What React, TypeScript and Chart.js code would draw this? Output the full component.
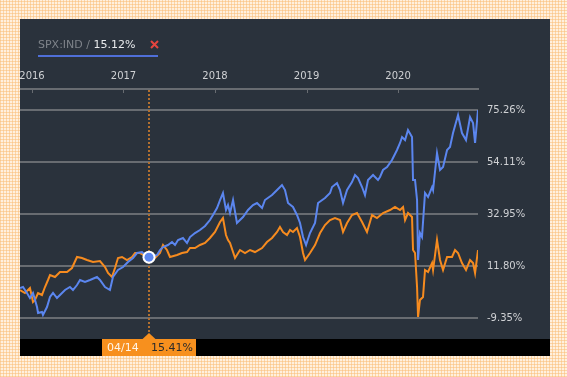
import React, { useEffect, useRef } from 'react';
import { Chart, registerables } from 'chart.js';
Chart.register(...registerables);

// ---- data (decimal years, % change) ----
const spxYears = [
  2015.869, 2015.902, 2015.945, 2015.978, 2016.011, 2016.055, 2016.066, 2016.109, 2016.120, 2016.164,
  2016.197, 2016.230, 2016.273, 2016.306, 2016.361, 2016.415, 2016.448, 2016.492, 2016.525, 2016.579,
  2016.634, 2016.710, 2016.743, 2016.798, 2016.852, 2016.885, 2016.940, 2016.995, 2017.049, 2017.104,
  2017.148, 2017.202, 2017.246, 2017.282, 2017.333, 2017.366, 2017.399, 2017.432, 2017.486, 2017.530,
  2017.563, 2017.596, 2017.650, 2017.694, 2017.727, 2017.781, 2017.836, 2017.891, 2017.945, 2017.978,
  2018.022, 2018.055, 2018.087, 2018.120, 2018.142, 2018.164, 2018.197, 2018.240, 2018.273, 2018.306,
  2018.361, 2018.415, 2018.459, 2018.514, 2018.546, 2018.623, 2018.678, 2018.732, 2018.765, 2018.798,
  2018.852, 2018.896, 2018.929, 2018.962, 2018.995, 2019.038, 2019.093, 2019.126, 2019.202, 2019.257,
  2019.279, 2019.333, 2019.366, 2019.399, 2019.443, 2019.497, 2019.530, 2019.563, 2019.607, 2019.639,
  2019.672, 2019.727, 2019.781, 2019.803, 2019.836, 2019.880, 2019.934, 2019.989, 2020.022, 2020.044,
  2020.077, 2020.109, 2020.153, 2020.164, 2020.186, 2020.208, 2020.219, 2020.240, 2020.262, 2020.295,
  2020.328, 2020.372, 2020.383, 2020.426, 2020.459, 2020.492, 2020.536, 2020.568, 2020.601, 2020.656,
  2020.699, 2020.743, 2020.787, 2020.820, 2020.842, 2020.874,
];
const spxValues = [
  2.85, 3.26, 0.82, -1.22, 0.82, -4.88, -7.32, -6.91, -8.13, -4.88,
  -0.81, 0.82, -1.22, 0.01, 2.04, 3.26, 2.04, 4.07, 6.11, 5.29,
  6.11, 7.33, 6.11, 3.26, 2.04, 7.33, 10.17, 11.39, 13.43, 15.05,
  17.09, 17.49, 15.87, 15.41, 15.87, 16.27, 18.31, 19.53, 20.34, 21.56,
  20.34, 22.37, 23.19, 21.15, 23.59, 25.22, 26.44, 28.07, 30.51, 32.54,
  35.39, 38.64, 41.49, 34.58, 36.61, 33.36, 38.64, 29.29, 30.51, 31.73,
  34.58, 36.61, 37.42, 35.39, 38.64, 40.68, 42.71, 44.74, 42.71, 37.42,
  35.80, 32.54, 29.29, 23.59, 20.34, 25.22, 29.29, 37.42, 39.46, 41.49,
  43.93, 45.56, 42.71, 37.42, 42.71, 45.96, 48.81, 47.59, 43.93, 40.68,
  46.78, 48.81, 46.78, 48.00, 50.85, 52.07, 54.91, 58.98, 61.83, 64.27,
  63.05, 67.11, 64.27, 46.78, 46.78, 38.64, 14.24, 25.22, 23.59, 41.49,
  39.86, 43.93, 42.71, 57.76, 50.85, 52.07, 58.98, 60.20, 65.89, 73.21,
  65.89, 63.05, 72.40, 69.96, 61.83, 75.25,
];

const peerYears = [
  2015.869, 2015.923, 2015.978, 2016.011, 2016.033, 2016.066, 2016.109, 2016.142, 2016.175, 2016.197,
  2016.251, 2016.306, 2016.383, 2016.437, 2016.492, 2016.546, 2016.601, 2016.667, 2016.743, 2016.798,
  2016.831, 2016.874, 2016.907, 2016.940, 2016.984, 2017.038, 2017.093, 2017.126, 2017.180, 2017.268,
  2017.344, 2017.399, 2017.432, 2017.475, 2017.508, 2017.585, 2017.639, 2017.694, 2017.727, 2017.781,
  2017.836, 2017.891, 2017.945, 2018.000, 2018.055, 2018.087, 2018.120, 2018.142, 2018.164, 2018.219,
  2018.273, 2018.328, 2018.383, 2018.437, 2018.514, 2018.568, 2018.623, 2018.678, 2018.710, 2018.743,
  2018.787, 2018.820, 2018.852, 2018.896, 2018.929, 2018.962, 2018.984, 2019.038, 2019.093, 2019.148,
  2019.202, 2019.257, 2019.311, 2019.366, 2019.399, 2019.443, 2019.497, 2019.552, 2019.607, 2019.661,
  2019.716, 2019.770, 2019.836, 2019.913, 2019.967, 2020.022, 2020.055, 2020.077, 2020.109, 2020.153,
  2020.164, 2020.186, 2020.208, 2020.219, 2020.240, 2020.273, 2020.295, 2020.328, 2020.372, 2020.383,
  2020.426, 2020.459, 2020.492, 2020.536, 2020.590, 2020.623, 2020.656, 2020.699, 2020.743, 2020.787,
  2020.820, 2020.842, 2020.874,
];
const peerValues = [
  2.04, 0.82, 2.85, -2.84, -2.03, 0.82, 0.01, 3.26, 6.11, 8.14,
  7.33, 9.36, 9.36, 10.99, 15.46, 15.05, 14.24, 13.43, 13.83, 11.39,
  8.95, 7.33, 10.99, 15.05, 15.46, 14.24, 15.46, 17.09, 17.09, 15.46,
  15.05, 17.09, 20.34, 18.31, 15.46, 16.27, 17.09, 17.49, 19.12, 19.12,
  20.34, 21.15, 23.19, 25.63, 29.70, 31.32, 24.41, 22.37, 21.15, 15.05,
  18.31, 17.09, 18.31, 17.49, 19.12, 21.56, 23.19, 25.63, 27.66, 25.63,
  24.41, 26.44, 25.63, 27.26, 23.59, 17.09, 14.24, 17.09, 20.34, 25.22,
  28.48, 30.51, 31.32, 30.51, 25.63, 29.29, 32.54, 33.36, 29.70, 25.63,
  32.54, 31.32, 33.36, 34.58, 35.80, 34.58, 35.80, 30.51, 33.36, 31.73,
  18.31, 17.09, 3.26, -8.94, -2.03, -0.81, 10.17, 9.36, 13.02, 10.17,
  22.37, 14.24, 10.17, 15.46, 15.46, 18.31, 17.09, 13.02, 10.17, 14.24,
  13.02, 8.95, 18.31,
];

const yearTicks = [2016, 2017, 2018, 2019, 2020];
const valueTicks = [-9.35, 11.8, 32.95, 54.11, 75.26];
const legendName = 'SPX:IND / ';
const legendValue = '15.12%';
const markerYear = 2017.282;
const markerDate = '04/14';
const markerValue = 15.41;

const BLUE = '#5b86ef';
const ORANGE = '#f68b1f';
const PANEL = '#2a323c';
const GRID = '#686c71';
const FONT = '"DejaVu Sans", sans-serif';

export default function App() {
  const ref = useRef<HTMLCanvasElement | null>(null);

  useEffect(() => {
    if (!ref.current) return;

    const decor = {
      id: 'decor',
      beforeDraw(chart: any) {
        const { ctx, width, height, chartArea } = chart;
        ctx.save();
        ctx.fillStyle = PANEL;
        ctx.fillRect(0, 0, width, height);
        ctx.fillStyle = '#000';
        ctx.fillRect(0, chartArea.bottom, width, height - chartArea.bottom);
        ctx.restore();
      },
      beforeDatasetsDraw(chart: any) {
        const { ctx, chartArea, scales } = chart;
        const xs = scales.x;
        ctx.save();
        ctx.strokeStyle = GRID;
        ctx.lineWidth = 1;
        yearTicks.forEach((t) => {
          const px = Math.round(xs.getPixelForValue(t)) + 0.5;
          ctx.beginPath();
          ctx.moveTo(px, chartArea.top);
          ctx.lineTo(px, chartArea.top + 4);
          ctx.stroke();
        });
        const mx = Math.round(xs.getPixelForValue(markerYear));
        ctx.strokeStyle = '#b3702f';
        ctx.lineWidth = 2;
        ctx.setLineDash([2, 2]);
        ctx.beginPath();
        ctx.moveTo(mx, chartArea.top + 1);
        ctx.lineTo(mx, chartArea.bottom - 6);
        ctx.stroke();
        ctx.restore();
      },
      afterDraw(chart: any) {
        const { ctx, chartArea, scales } = chart;
        const xs = scales.x;
        const ys = scales.y;
        ctx.save();
        const mx = Math.round(xs.getPixelForValue(markerYear));
        const my = ys.getPixelForValue(markerValue);
        ctx.fillStyle = '#ffffff';
        ctx.beginPath();
        ctx.arc(mx, my, 6.5, 0, Math.PI * 2);
        ctx.fill();
        ctx.fillStyle = BLUE;
        ctx.beginPath();
        ctx.arc(mx, my, 4.5, 0, Math.PI * 2);
        ctx.fill();

        const top = chartArea.bottom;
        ctx.fillStyle = '#f7901e';
        ctx.fillRect(mx - 47, top, 94, 17);
        ctx.beginPath();
        ctx.moveTo(mx - 7, top + 0.5);
        ctx.lineTo(mx, top - 6);
        ctx.lineTo(mx + 7, top + 0.5);
        ctx.closePath();
        ctx.fill();
        ctx.font = '11px ' + FONT;
        ctx.textBaseline = 'middle';
        ctx.textAlign = 'left';
        ctx.fillStyle = '#fff4e6';
        ctx.fillText(markerDate, mx - 42, top + 9);
        ctx.fillStyle = '#2b2b2b';
        ctx.fillText(markerValue.toFixed(2) + '%', mx + 2, top + 9);

        ctx.font = '11px ' + FONT;
        ctx.fillStyle = '#7e838a';
        ctx.fillText(legendName, 18, 26);
        const w = ctx.measureText(legendName).width;
        ctx.fillStyle = '#e8eaec';
        ctx.fillText(legendValue, 18 + w, 26);
        ctx.strokeStyle = '#e5453f';
        ctx.lineWidth = 2;
        ctx.beginPath();
        ctx.moveTo(131, 22);
        ctx.lineTo(138, 29);
        ctx.moveTo(138, 22);
        ctx.lineTo(131, 29);
        ctx.stroke();
        ctx.fillStyle = '#4f6fd8';
        ctx.fillRect(18, 36, 120, 2);
        ctx.restore();
      },
    };

    const chart = new Chart(ref.current, {
      type: 'line',
      data: {
        datasets: [
          {
            label: 'SPX:IND',
            data: spxYears.map((x, i) => ({ x, y: spxValues[i] })),
            borderColor: BLUE,
            borderWidth: 2,
            pointRadius: 0,
            tension: 0,
          },
          {
            label: 'Peer',
            data: peerYears.map((x, i) => ({ x, y: peerValues[i] })),
            borderColor: ORANGE,
            borderWidth: 2,
            pointRadius: 0,
            tension: 0,
          },
        ],
      },
      options: {
        animation: false,
        responsive: false,
        devicePixelRatio: 1,
        layout: { padding: { left: 0, right: 0, top: 0, bottom: 17 } },
        plugins: { legend: { display: false }, tooltip: { enabled: false } },
        scales: {
          x: {
            type: 'linear',
            position: 'top',
            min: spxYears[0],
            max: spxYears[spxYears.length - 1],
            afterBuildTicks: (s: any) => {
              s.ticks = yearTicks.map((v) => ({ value: v }));
            },
            afterFit: (s: any) => {
              s.height = 70;
              s.paddingLeft = 0;
              s.paddingRight = 0;
            },
            grid: { display: true, drawOnChartArea: false, drawTicks: false, color: GRID },
            border: { display: true, color: GRID, width: 2 },
            ticks: {
              autoSkip: false,
              maxRotation: 0,
              padding: 7,
              color: '#cfd1d4',
              font: { family: FONT, size: 10 },
              callback: (v: any) => String(v),
            },
          },
          y: {
            type: 'linear',
            position: 'right',
            min: -17.89,
            max: 83.8,
            afterBuildTicks: (s: any) => {
              s.ticks = valueTicks.map((v) => ({ value: v }));
            },
            afterFit: (s: any) => {
              s.width = 72;
              s.paddingTop = 0;
              s.paddingBottom = 0;
            },
            grid: { color: GRID, lineWidth: 2, drawTicks: false },
            border: { display: false },
            ticks: {
              padding: 9,
              color: '#cfd1d4',
              font: { family: FONT, size: 10 },
              callback: (v: any) => Number(v).toFixed(2) + '%',
            },
          },
        },
      },
      plugins: [decor],
    });
    return () => chart.destroy();
  }, []);

  const pattern =
    'repeating-linear-gradient(0deg, rgba(250,190,120,0.55) 0px, rgba(250,190,120,0.55) 1px, transparent 1px, transparent 3px),' +
    'repeating-linear-gradient(90deg, rgba(250,190,120,0.55) 0px, rgba(250,190,120,0.55) 1px, transparent 1px, transparent 3px)';

  return (
    <div
      style={{
        position: 'fixed',
        left: 0,
        top: 0,
        width: 567,
        height: 377,
        backgroundColor: '#fff0de',
        backgroundImage: pattern,
        overflow: 'hidden',
      }}
    >
      <canvas
        ref={ref}
        width={530}
        height={337}
        style={{ position: 'absolute', left: 20, top: 19, width: 530, height: 337, display: 'block' }}
      />
    </div>
  );
}
